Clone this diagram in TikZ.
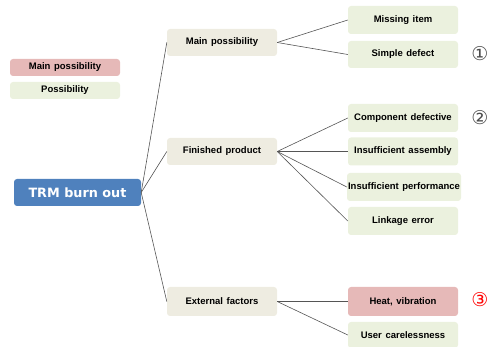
\documentclass[tikz,border=0pt]{standalone}
\usepackage{fontspec}
\setmainfont{Liberation Sans}
\newfontfamily\symfont{DejaVu Sans}
\newfontfamily\rootfont{DejaVu Sans}
\newcommand\myboxfont{\fontsize{9.5}{11}\selectfont\bfseries\spaceskip=3.6pt\relax}
\definecolor{rootblue}{HTML}{4F81BD}
\definecolor{tan}{HTML}{EEECE1}
\definecolor{leaf}{HTML}{EBF1DE}
\definecolor{mainpink}{HTML}{E6B9B8}
\definecolor{linkgray}{HTML}{555555}
\begin{document}
\begin{tikzpicture}[x=1pt,y=-1pt,
  box/.style={rounded corners=3pt, inner sep=0pt, font=\myboxfont},
  mid/.style={box, fill=tan},
  lf/.style={box, fill=leaf},
  hot/.style={box, fill=mainpink},
  link/.style={draw=linkgray, line width=0.6pt},
  num/.style={font=\symfont\fontsize{19}{20}\selectfont, inner sep=0pt}]
\useasboundingbox (0,0) rectangle (490,347);
% legend
\node[hot, minimum width=110pt, minimum height=17pt] (legmain) at (65,67.5) {Main possibility};
\node[lf, minimum width=110pt, minimum height=17pt] (legposs) at (65,90.5) {Possibility};
% root
\node[box, fill=rootblue, text=white, minimum width=127pt, minimum height=27pt,
  font=\rootfont\fontsize{12.8}{14}\selectfont\bfseries] (root) at (77.5,192.5) {TRM burn out};
% middle
\node[mid, minimum width=110pt, minimum height=27pt] (mp) at (222,42.5) {Main possibility};
\node[mid, minimum width=110pt, minimum height=27pt] (fp) at (222,151.5) {Finished product};
\node[mid, minimum width=110pt, minimum height=29pt] (ef) at (222,301.5) {External factors};
% leaves
\node[lf, minimum width=110pt, minimum height=28pt] (mi) at (403,20) {Missing item};
\node[lf, minimum width=110pt, minimum height=27pt] (sd) at (403,54.5) {Simple defect};
\node[lf, minimum width=110pt, minimum height=28pt] (cd) at (403,118) {Component defective};
\node[lf, minimum width=110pt, minimum height=28pt] (ia) at (403,151.5) {Insufficient assembly};
\node[lf, minimum width=114pt, minimum height=28pt] (ip) at (404,187) {Insufficient performance};
\node[lf, minimum width=110pt, minimum height=28pt] (le) at (403,221) {Linkage error};
\node[hot, minimum width=110pt, minimum height=29pt] (hv) at (403,301.5) {Heat, vibration};
\node[lf, minimum width=110pt, minimum height=26pt] (uc) at (403,335) {User carelessness};
% numbers
\node[num, text=black!70] (n1) at (480,54) {①};
\node[num, text=black!70] (n2) at (480,118) {②};
\node[num, text=red] (n3) at (480,300) {③};
% links
\draw[link] (root.east) -- (mp.west);
\draw[link] (root.east) -- (fp.west);
\draw[link] (root.east) -- (ef.west);
\draw[link] (mp.east) -- (mi.west);
\draw[link] (mp.east) -- (sd.west);
\draw[link] (fp.east) -- (cd.west);
\draw[link] (fp.east) -- (ia.west);
\draw[link] (fp.east) -- (ip.west);
\draw[link] (fp.east) -- (le.west);
\draw[link] (ef.east) -- (hv.west);
\draw[link] (ef.east) -- (uc.west);
\end{tikzpicture}
\end{document}
